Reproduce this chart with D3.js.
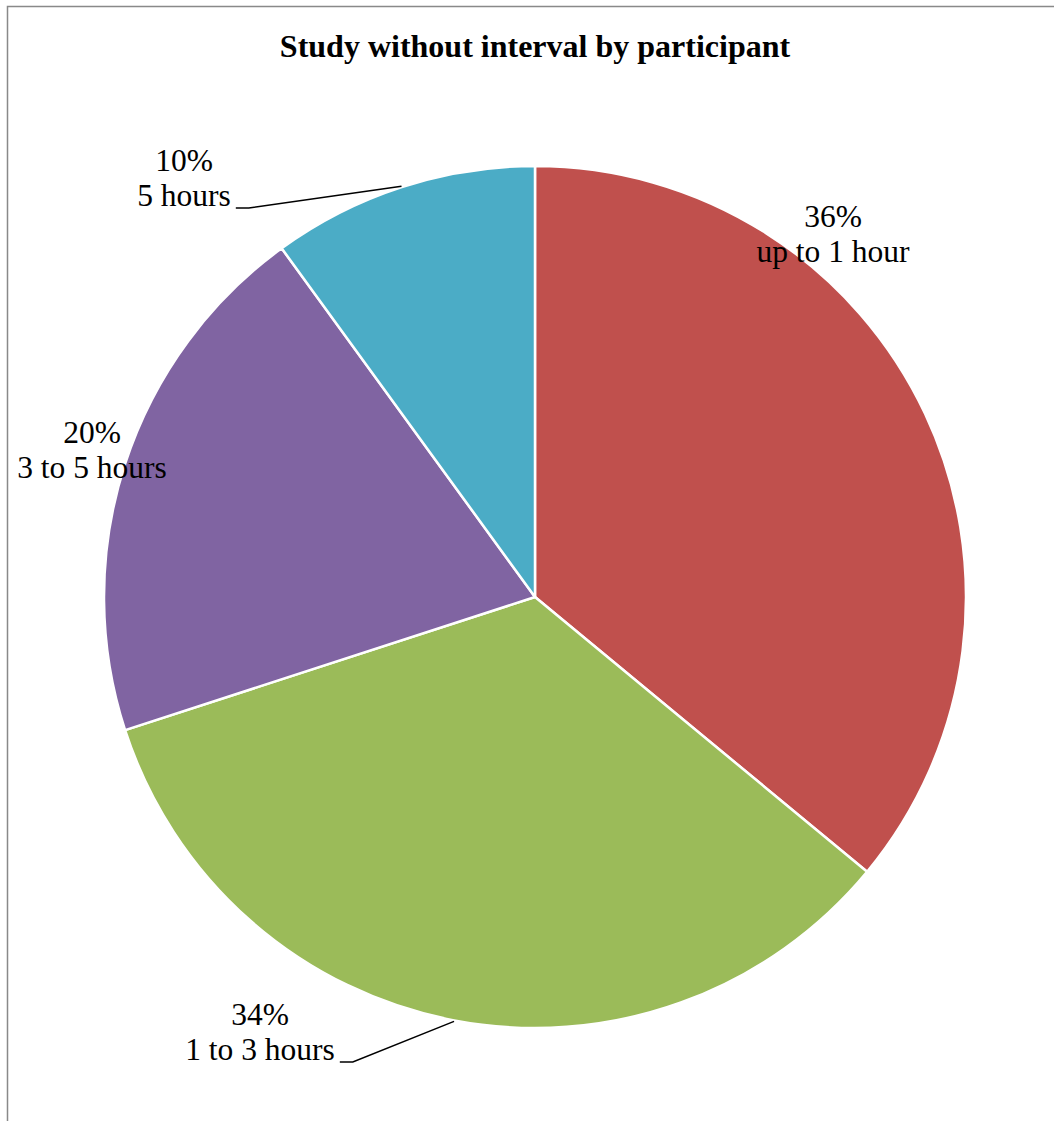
<!DOCTYPE html>
<html>
<head>
<meta charset="utf-8">
<script src="https://cdn.jsdelivr.net/npm/d3@7"></script>
<style>
  html, body { margin: 0; padding: 0; background: #fff; }
  svg { display: block; }
  svg text { font-family: "Liberation Serif", "Times New Roman", Times, serif; }
</style>
</head>
<body>
<script>
// Study duration without a break, share of participants
const categories = ["up to 1 hour", "1 to 3 hours", "3 to 5 hours", "5 hours"];
const shares = [36, 34, 20, 10];
const colors = ["#C0504D", "#9BBB59", "#8064A2", "#4BACC6"];
const chartTitle = "Study without interval by participant";

const W = 1054, H = 1121;
const cx = 535, cy = 597, R = 431;

// Label placement (centre x, first baseline) relative to the pie centre,
// and whether a leader line is drawn back to the slice.
const labelLayout = [
  { dx: 298, dy: -370, leader: false },
  { dx: -275, dy: 428, leader: true },
  { dx: -443, dy: -154, leader: false },
  { dx: -351, dy: -426, leader: true }
];

const svg = d3.select("body").append("svg")
  .attr("width", W).attr("height", H);

// chart frame
svg.append("rect")
  .attr("x", 7.5).attr("y", 6.5)
  .attr("width", 1200).attr("height", 1300)
  .attr("fill", "none")
  .attr("stroke", "#898989")
  .attr("stroke-width", 1.5);

svg.append("text")
  .attr("x", cx).attr("y", 57)
  .attr("text-anchor", "middle")
  .style("font-family", "'Liberation Serif', 'Times New Roman', Times, serif")
  .attr("font-weight", "bold")
  .attr("font-size", 32)
  .attr("fill", "#000")
  .text(chartTitle);

const pie = d3.pie().sort(null).value(d => d)(shares);
const arc = d3.arc().innerRadius(0).outerRadius(R);

const g = svg.append("g").attr("transform", `translate(${cx},${cy})`);

g.selectAll("path.slice")
  .data(pie)
  .join("path")
  .attr("class", "slice")
  .attr("d", arc)
  .attr("fill", (d, i) => colors[i])
  .attr("stroke", "#fff")
  .attr("stroke-width", 2.5)
  .attr("stroke-linejoin", "round");

const fontSize = 31.5, lineGap = 35;

const labels = g.selectAll("text.lbl")
  .data(pie)
  .join("text")
  .attr("class", "lbl")
  .attr("text-anchor", "middle")
  .style("font-family", "'Liberation Serif', 'Times New Roman', Times, serif")
  .attr("font-size", fontSize)
  .attr("fill", "#000");

labels.append("tspan")
  .attr("x", (d, i) => labelLayout[i].dx)
  .attr("y", (d, i) => labelLayout[i].dy)
  .text(d => d3.format(".0%")(d.value / d3.sum(shares)));

const nameSpans = labels.append("tspan")
  .attr("x", (d, i) => labelLayout[i].dx)
  .attr("y", (d, i) => labelLayout[i].dy + lineGap)
  .text((d, i) => categories[i]);

// leader lines: short tick after the category name, then to the slice rim mid-point
nameSpans.each(function (d, i) {
  const L = labelLayout[i];
  if (!L.leader) return;
  const w = this.getComputedTextLength();
  const mid = (d.startAngle + d.endAngle) / 2;
  const ex = Math.sin(mid) * (R + 1), ey = -Math.cos(mid) * (R + 1);
  const hx0 = L.dx + w / 2 + 5, hx1 = hx0 + 13;
  const y0 = L.dy + lineGap + 2;
  g.append("path")
    .attr("d", `M${hx0},${y0}L${hx1},${y0}L${ex},${ey}`)
    .attr("fill", "none")
    .attr("stroke", "#000")
    .attr("stroke-width", 1.5);
});
</script>
</body>
</html>
